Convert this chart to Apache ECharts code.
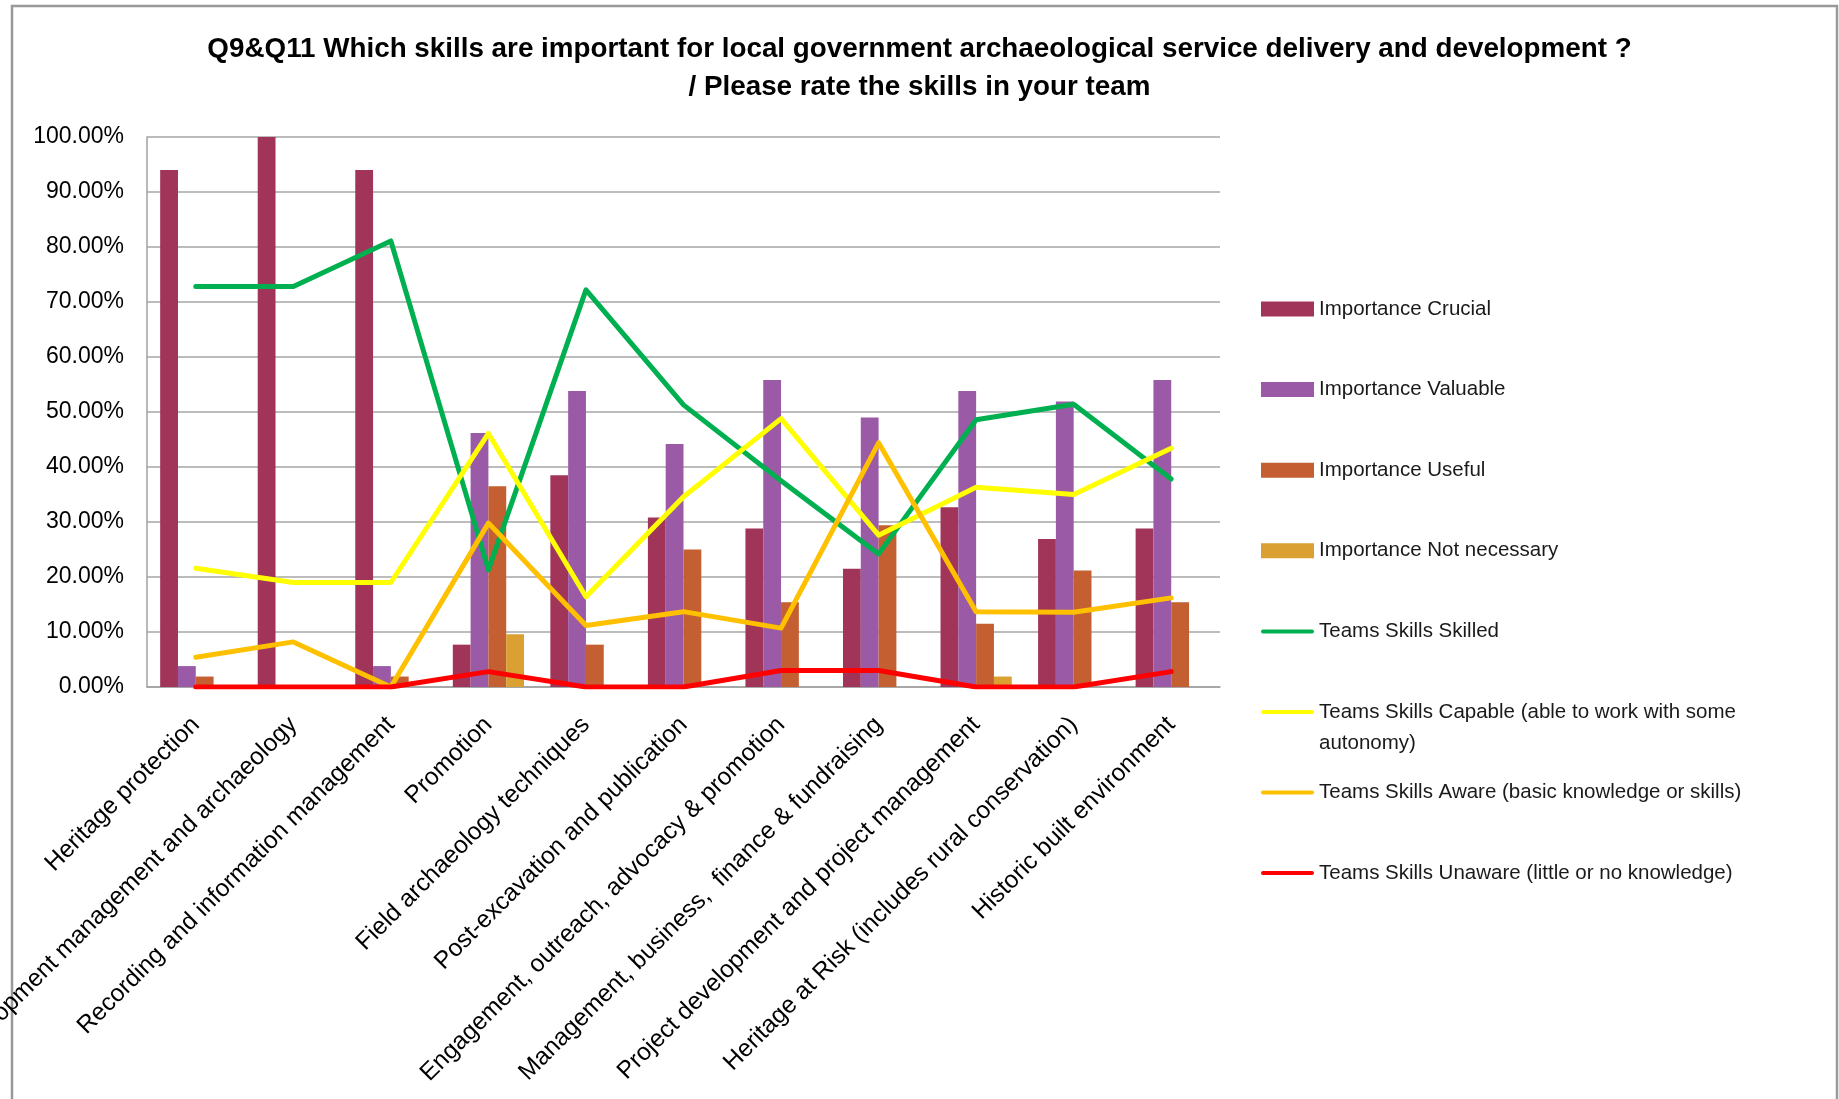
<!DOCTYPE html>
<html>
<head>
<meta charset="utf-8">
<script src="https://cdn.jsdelivr.net/npm/echarts@6/dist/echarts.min.js"></script>
<style>
  html, body { margin: 0; padding: 0; background: #fff; }
  #chart { width: 1839px; height: 1099px; }
</style>
</head>
<body>
<div id="chart"></div>
<script>
// skills (x axis)
var categories = [
  'Heritage protection',
  'Development management and archaeology',
  'Recording and information management',
  'Promotion',
  'Field archaeology techniques',
  'Post-excavation and publication',
  'Engagement, outreach, advocacy & promotion',
  'Management, business,  finance & fundraising',
  'Project development and project management',
  'Heritage at Risk (includes rural conservation)',
  'Historic built environment'
]

// Q9 importance (bars), percent
var crucial      = [94.0, 100, 94.0, 7.7, 38.5, 30.8, 28.8, 21.5, 32.7, 26.9, 28.8]
var valuable     = [3.8, 0, 3.8, 46.2, 53.8, 44.2, 55.8, 49.0, 53.8, 51.9, 55.8]
var useful       = [1.9, 0, 1.9, 36.5, 7.7, 25.0, 15.4, 29.4, 11.5, 21.2, 15.4]
var notNecessary = [0, 0, 0, 9.6, 0, 0, 0, 0, 1.9, 0, 0]

// Q11 team skills (lines), percent
var skilled  = [72.8, 72.8, 81.1, 21.3, 72.2, 51.3, 37.5, 24.2, 48.6, 51.4, 37.8]
var capable  = [21.6, 19.0, 19.0, 46.1, 16.4, 34.6, 48.8, 27.6, 36.3, 35.0, 43.4]
var aware    = [5.4, 8.2, 0, 29.8, 11.2, 13.7, 10.7, 44.4, 13.7, 13.6, 16.2]
var unaware  = [0, 0, 0, 2.8, 0, 0, 3.0, 3.0, 0, 0, 2.8]

var yTicks = { min: 0, max: 100, interval: 10 }

var barNames = ['Importance Crucial', 'Importance Valuable', 'Importance Useful', 'Importance Not necessary']
var barData = [crucial, valuable, useful, notNecessary]
var barColors = ['#A13459', '#9A5AA6', '#C35F31', '#DAA032']

var lineNames = [
  'Teams Skills Skilled',
  'Teams Skills Capable (able to work with some autonomy)',
  'Teams Skills Aware (basic knowledge or skills)',
  'Teams Skills Unaware (little or no knowledge)'
]
var lineData = [skilled, capable, aware, unaware]
var lineColors = ['#00B050', '#FFFF00', '#FFC000', '#FF0000']

var FONT = '"Liberation Sans", Arial, sans-serif'
var LINE_ICON = 'path://M2,0 L51,0 Q53,0 53,2 Q53,4 51,4 L2,4 Q0,4 0,2 Q0,0 2,0 Z'

var seriesList = []
barNames.forEach(function (name, i) {
  seriesList.push({
    name: name,
    type: 'bar',
    data: barData[i],
    barGap: '0%',
    barCategoryGap: '27%',
    itemStyle: { color: barColors[i] },
    z: 2
  })
})
lineNames.forEach(function (name, i) {
  seriesList.push({
    name: name,
    type: 'line',
    data: lineData[i],
    symbol: 'none',
    lineStyle: { color: lineColors[i], width: 5, cap: 'round', join: 'round' },
    itemStyle: { color: lineColors[i] },
    z: 5
  })
})

var legendBase = {
  orient: 'vertical',
  left: 1261,
  padding: 0,
  itemWidth: 53,
  itemHeight: 15,
  itemGap: 49.6,
  symbolKeepAspect: true,
  // the wrapped entry gets an empty first line so its first real line sits level with the icon
  formatter: function (name) {
    if (name.indexOf('with some autonomy)') > -1) {
      return '\n' + name.replace('with some autonomy)', 'with some\nautonomy)')
    }
    return name
  },
  textStyle: { fontFamily: FONT, fontSize: 20.5, color: '#1a1a1a', lineHeight: 31 }
}

var legendA = barNames.map(function (n) { return { name: n, icon: 'rect' } })
legendA.push({ name: lineNames[0], icon: LINE_ICON })
var legendB = [{ name: lineNames[1], icon: LINE_ICON }]
var legendC = [
  { name: lineNames[2], icon: LINE_ICON },
  { name: lineNames[3], icon: LINE_ICON }
]

var myChart = echarts.init(document.getElementById('chart'))
var option = {
  backgroundColor: '#fff',
  animation: false,
  title: {
    text: 'Q9&Q11 Which skills are important for local government archaeological service delivery and development ?\n/ Please rate the skills in your team',
    left: 'center',
    top: 30.5,
    padding: [0, 0, 0, 21],
    textStyle: { fontFamily: FONT, fontSize: 27.8, fontWeight: 'bold', color: '#000', lineHeight: 38, align: 'center' }
  },
  legend: [
    Object.assign({}, legendBase, { top: 293.5, data: legendA }),
    Object.assign({}, legendBase, { top: 665.5, data: legendB }),
    Object.assign({}, legendBase, { top: 777, data: legendC })
  ],
  grid: { left: 147, right: 619, top: 137, bottom: 412, outerBoundsMode: 'none', containLabel: false },
  xAxis: {
    type: 'category',
    data: categories,
    axisLine: { lineStyle: { color: '#A0A0A0', width: 1.5 } },
    axisTick: { show: false },
    axisLabel: {
      interval: 0,
      rotate: 45,
      margin: 34,
      fontFamily: FONT,
      fontSize: 24.5,
      color: '#000'
    }
  },
  yAxis: {
    type: 'value',
    min: yTicks.min,
    max: yTicks.max,
    interval: yTicks.interval,
    axisLine: { show: true, lineStyle: { color: '#A0A0A0', width: 1.5 } },
    axisTick: { show: false },
    splitLine: { lineStyle: { color: '#A6A6A6', width: 1.5 } },
    axisLabel: {
      margin: 23,
      fontFamily: FONT,
      fontSize: 23,
      color: '#000',
      formatter: function (v) { return v.toFixed(2) + '%' }
    }
  },
  graphic: [{
    type: 'rect',
    silent: true,
    shape: { x: 12, y: 6, width: 1825, height: 1200 },
    style: { fill: 'none', stroke: '#999', lineWidth: 2.5 },
    z: -10
  }],
  series: seriesList
}
myChart.setOption(option)
</script>
</body>
</html>
